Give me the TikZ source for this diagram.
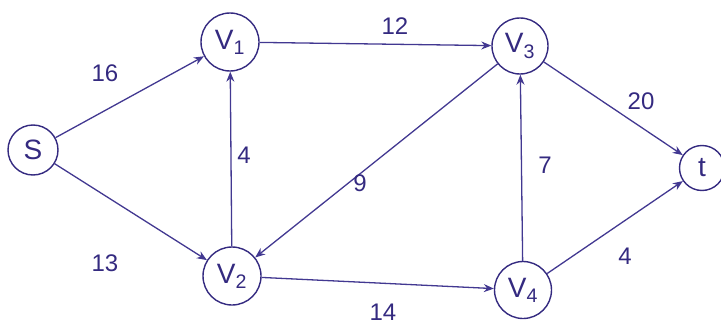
\documentclass[tikz,border=0pt]{standalone}
\usepackage{fontspec}
\setmainfont{Liberation Sans}
\usetikzlibrary{arrows.meta}
\definecolor{ink}{RGB}{52,42,128}
\definecolor{inkl}{RGB}{66,56,145}
\begin{document}
\begin{tikzpicture}[x=1pt,y=-1pt,
  vtx/.style={circle,draw=ink,line width=1.4pt,text=ink,minimum size=#1,inner sep=0pt,font=\fontsize{28}{30}\selectfont},
  vtx/.default=56pt,
  edge/.style={draw=inkl,line width=1.3pt,-{Stealth[length=10pt,width=8pt]}},
  wt/.style={text=ink,font=\fontsize{24}{26}\selectfont}]
\useasboundingbox (0,0) rectangle (721,324);
\node[vtx=50pt] (s) at (33,150) {S};
\node[vtx=58pt] (v1) at (230,42) {V\textsubscript{1}};
\node[vtx=58pt] (v2) at (232,276) {V\textsubscript{2}};
\node[vtx=56pt] (v3) at (520,46) {V\textsubscript{3}};
\node[vtx=57pt] (v4) at (523,290) {V\textsubscript{4}};
\node[vtx=45pt] (t) at (702,168) {t};
\draw[edge] (s) -- (v1);
\draw[edge] (s) -- (v2);
\draw[edge] (v2) -- (v1);
\draw[edge] (v1) -- (v3);
\draw[edge] (v3) -- (v2);
\draw[edge] (v2) -- (v4);
\draw[edge] (v4) -- (v3);
\draw[edge] (v3) -- (t);
\draw[edge] (v4) -- (t);
\node[wt] (w1) at (105,73) {16};
\node[wt] (w2) at (105,263) {13};
\node[wt] (w3) at (244,155) {4};
\node[wt] (w4) at (395,26) {12};
\node[wt] (w5) at (360,183) {9};
\node[wt] (w6) at (383,312) {14};
\node[wt] (w7) at (545,165) {7};
\node[wt] (w8) at (641,101) {20};
\node[wt] (w9) at (625,256) {4};
\end{tikzpicture}
\end{document}
